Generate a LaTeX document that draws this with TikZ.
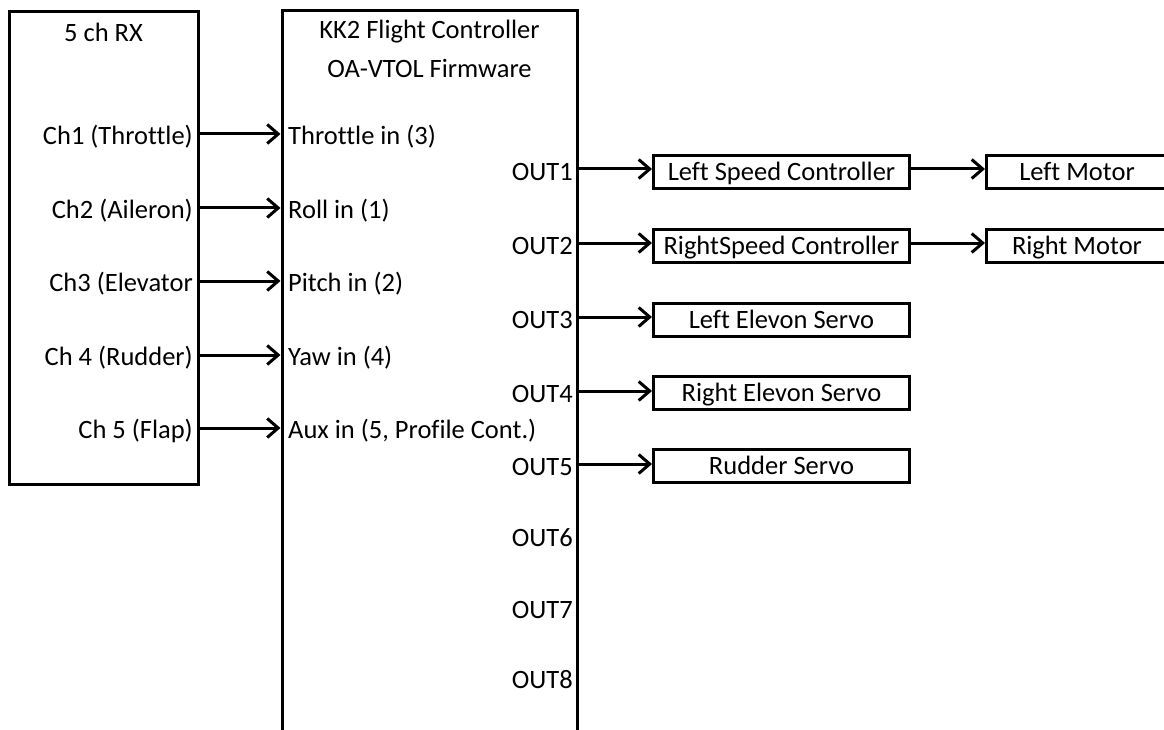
\documentclass[tikz,border=0pt]{standalone}
\usepackage{fontspec}
\setmainfont{Carlito}[Ligatures={NoCommon}]
\usetikzlibrary{arrows.meta}
\begin{document}
\begin{tikzpicture}[x=1pt,y=-1pt,
  box/.style={draw, line width=3pt, rectangle, inner sep=0pt},
  blk/.style={box, minimum width=256pt, minimum height=33pt, text height=18pt, text depth=1pt, font=\fontsize{26.5}{30}\selectfont},
  lbl/.style={inner sep=0pt, font=\fontsize{26.5}{30}\selectfont},
  link/.style={line width=3pt, -{Straight Barb[length=11pt,width=19pt,line width=3pt]}}]
\useasboundingbox (0,0) rectangle (1164,730);
\clip (0,0) rectangle (1164,730);

% receiver and flight controller
\node[box, minimum width=189pt, minimum height=472pt] (rx) at (103.5,248) {};
\node[box, minimum width=295pt, minimum height=760pt] (kk) at (429.5,391) {};
\node[lbl] (rxt) at (103.5,32) {5 ch RX};
\node[lbl] (kkt1) at (429.5,32) {KK2 Flight Controller};
\node[lbl] (kkt2) at (429.5,68) {OA-VTOL Firmware};

% receiver channels -> controller inputs
\foreach \i/\y/\ch/\inp in {1/134/Ch1 (Throttle)/Throttle in (3),
                             2/208/Ch2 (Aileron)/Roll in (1),
                             3/281/Ch3 (Elevator/Pitch in (2),
                             4/355/Ch 4 (Rudder)/Yaw in (4),
                             5/428/Ch 5 (Flap)/{Aux in (5, Profile Cont.)}} {
  \coordinate (r\i) at (0,\y);
  \node[lbl, anchor=east] (ch\i) at (193,\y+3) {\ch};
  \node[lbl, anchor=west] (in\i) at (288,\y+3) {\inp};
  \draw[link] (rx.east |- r\i) -- (kk.west |- r\i);
}

% controller outputs
\foreach \i/\y in {1/169,2/243,3/317,4/391,5/464,6/535,7/607,8/677} {
  \coordinate (o\i) at (0,\y);
  \node[lbl, anchor=east] (out\i) at (573,\y+3) {OUT\i};
}

% output devices
\node[blk] (lsc) at (781.5,172) {Left Speed Controller};
\node[blk] (rsc) at (781.5,246) {RightSpeed Controller};
\node[blk] (les) at (781.5,320) {Left Elevon Servo};
\node[blk] (res) at (781.5,393) {Right Elevon Servo};
\node[blk] (rud) at (781.5,466) {Rudder Servo};
\node[blk, minimum width=181pt] (lm) at (1077,172) {Left Motor};
\node[blk, minimum width=181pt] (rm) at (1077,246) {Right Motor};

\draw[link] (kk.east |- o1) -- (lsc.west |- o1);
\draw[link] (kk.east |- o2) -- (rsc.west |- o2);
\draw[link] (kk.east |- o3) -- (les.west |- o3);
\draw[link] (kk.east |- o4) -- (res.west |- o4);
\draw[link] (kk.east |- o5) -- (rud.west |- o5);
\draw[link] (lsc.east |- o1) -- (lm.west |- o1);
\draw[link] (rsc.east |- o2) -- (rm.west |- o2);
\end{tikzpicture}
\end{document}
